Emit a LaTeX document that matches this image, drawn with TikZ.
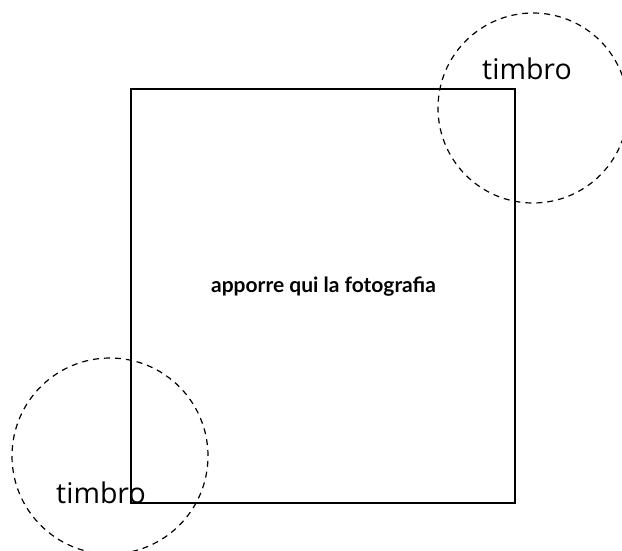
\documentclass[tikz,border=0pt]{standalone}
\usepackage{fontspec}
\setmainfont{Open Sans}
\newfontfamily\boldlabel{Lato}
\begin{document}
\begin{tikzpicture}[x=1pt,y=-1pt,
  frame/.style={draw=black,line width=2pt},
  stampring/.style={draw=black,line width=1.2pt,dash pattern=on 6pt off 5pt},
  stamptext/.style={inner sep=0pt,anchor=base,font=\fontsize{28.5}{32}\selectfont},
  phototext/.style={inner sep=0pt,anchor=base,font=\boldlabel\bfseries\fontsize{21}{24}\selectfont}]
\useasboundingbox (0,0) rectangle (622,550);
\begin{scope}
\clip (0,0) rectangle (622,550);
\node[frame,minimum width=384pt,minimum height=414pt,inner sep=0pt] (photo) at (323,296) {};
\node[phototext] (label) at (323.5,292) {apporre qui la fotografia};
\node[stampring,circle,minimum size=190pt,inner sep=0pt] (stampA) at (533,108) {};
\node[stampring,circle,minimum size=196pt,inner sep=0pt] (stampB) at (110,456) {};
\node[stamptext] (textA) at (527,79) {timbro};
\node[stamptext] (textB) at (101,503) {timbro};
\end{scope}
\end{tikzpicture}
\end{document}
